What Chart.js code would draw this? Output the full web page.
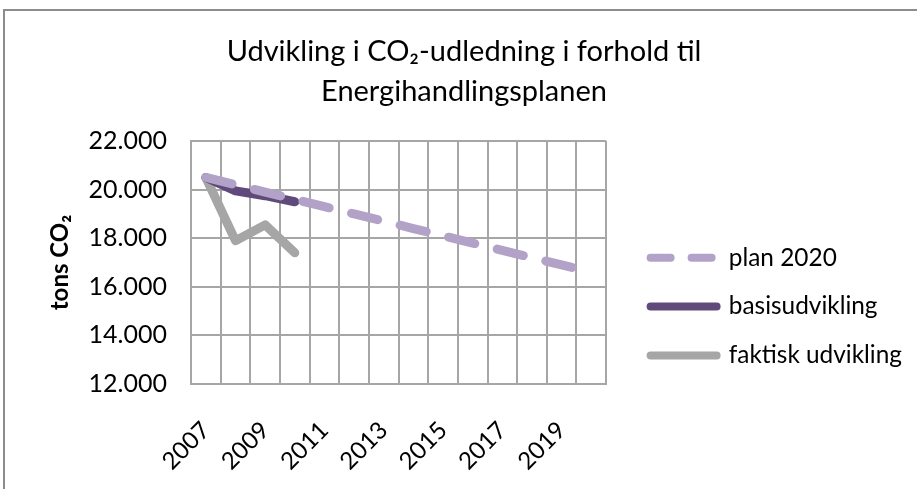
<!DOCTYPE html>
<html>
<head>
<meta charset="utf-8">
<script src="https://cdn.jsdelivr.net/npm/chart.js@4.4.0/dist/chart.umd.min.js"></script>
<style>
  html, body { margin: 0; padding: 0; background: #fff; }
  #wrap { width: 917px; height: 489px; position: relative; }
</style>
</head>
<body>
<div id="wrap"><canvas id="co2Chart" width="917" height="489"></canvas></div>
<script>
// data
const years = ['2007', '2008', '2009', '2010', '2011', '2012', '2013', '2014', '2015', '2016', '2017', '2018', '2019', '2020'];
const plan2020 = [20500, 20200, 19900, 19600, 19300, 19000, 18700, 18400, 18100, 17800, 17500, 17200, 16900, 16600];
const basisudvikling = [20500, 19950, 19750, 19500];
const faktiskUdvikling = [20500, 17900, 18550, 17400];
const yTicks = [12000, 14000, 16000, 18000, 20000, 22000];

const fontFamily = "Lato, 'Noto Sans', sans-serif";
const gridColor = '#a6a6a6';

function formatDanish(v) {
    // 22000 -> "22.000"
    return String(v).replace(/\B(?=(\d{3})+(?!\d))/g, '.');
}

// grey frame of the original chart object (left and top edges visible)
const framePlugin = {
    id: 'frame',
    beforeDraw(chart) {
        const ctx = chart.ctx;
        ctx.save();
        ctx.fillStyle = '#fff';
        ctx.fillRect(0, 0, chart.width, chart.height);
        ctx.strokeStyle = '#8c8c8c';
        ctx.lineWidth = 2;
        ctx.beginPath();
        ctx.moveTo(4, chart.height);
        ctx.lineTo(4, 10);
        ctx.lineTo(chart.width, 10);
        ctx.stroke();
        ctx.restore();
    }
};

const ctx = document.getElementById('co2Chart').getContext('2d');

new Chart(ctx, {
    type: 'line',
    data: {
        labels: years,
        datasets: [{
            label: 'plan 2020',
            data: plan2020,
            borderColor: '#b3a2c7',
            backgroundColor: '#b3a2c7',
            borderWidth: 9,
            borderDash: [27, 23],
            borderCapStyle: 'round',
            borderJoinStyle: 'round',
            pointRadius: 0,
            tension: 0
        }, {
            label: 'basisudvikling',
            data: basisudvikling,
            borderColor: '#604a7b',
            backgroundColor: '#604a7b',
            borderWidth: 9,
            borderCapStyle: 'round',
            borderJoinStyle: 'round',
            pointRadius: 0,
            tension: 0
        }, {
            label: 'faktisk udvikling',
            data: faktiskUdvikling,
            borderColor: '#a6a6a6',
            backgroundColor: '#a6a6a6',
            borderWidth: 9,
            borderCapStyle: 'round',
            borderJoinStyle: 'round',
            pointRadius: 0,
            tension: 0
        }]
    },
    options: {
        responsive: false,
        animation: false,
        layout: {
            padding: { left: 16, right: 5, top: 10, bottom: 15 }
        },
        plugins: {
            title: {
                display: true,
                text: ['Udvikling i CO\u2082-udledning i forhold til', 'Energihandlingsplanen'],
                color: '#000',
                font: { family: fontFamily, size: 29, weight: 'normal', lineHeight: 1.38 },
                padding: { top: 22, bottom: 29 }
            },
            legend: {
                position: 'right',
                align: 'start',
                maxWidth: 400,
                title: {
                    display: true,
                    text: ' ',
                    font: { size: 10, lineHeight: 1 },
                    padding: { top: 0, bottom: 201 }
                },
                labels: {
                    color: '#000',
                    font: { family: fontFamily, size: 24.4 },
                    usePointStyle: true,
                    pointStyle: 'line',
                    pointStyleWidth: 66,
                    padding: 24.5,
                    generateLabels(chart) {
                        const items = Chart.defaults.plugins.legend.labels.generateLabels(chart);
                        items.forEach(item => {
                            item.lineWidth = 8;
                            item.lineCap = 'round';
                            if (item.datasetIndex === 0) item.lineDash = [20, 21];
                        });
                        return items;
                    }
                }
            },
            tooltip: { enabled: false }
        },
        scales: {
            x: {
                type: 'category',
                offset: true,
                grid: { offset: true, color: gridColor, lineWidth: 2, drawTicks: false },
                border: { color: gridColor, width: 2 },
                ticks: {
                    autoSkip: false,
                    maxRotation: 45,
                    minRotation: 45,
                    padding: 32,
                    color: '#000',
                    font: { family: fontFamily, size: 24 },
                    callback: function(value, index) {
                        return index % 2 === 0 ? years[index] : '';
                    }
                },
                afterFit(scale) {
                    scale.height = 90;
                }
            },
            y: {
                min: 12000,
                max: 22000,
                afterBuildTicks(scale) {
                    scale.ticks = yTicks.map(v => ({ value: v }));
                },
                grid: { color: gridColor, lineWidth: 2, drawTicks: false },
                border: { color: gridColor, width: 2 },
                ticks: {
                    padding: 24,
                    color: '#000',
                    font: { family: fontFamily, size: 25 },
                    callback: v => formatDanish(v)
                },
                title: {
                    display: true,
                    text: 'tons CO\u2082',
                    color: '#000',
                    font: { family: fontFamily, size: 24, weight: 'bold' },
                    padding: { top: 30, bottom: 19 }
                },
                afterFit(scale) {
                    scale.width = 175;
                }
            },
            // empty spacer between plot area and legend
            gap: {
                type: 'linear',
                position: 'right',
                display: true,
                grid: { display: false },
                border: { display: false },
                ticks: { display: false },
                afterFit(scale) {
                    scale.width = 20;
                }
            }
        }
    },
    plugins: [framePlugin]
});
</script>
</body>
</html>
